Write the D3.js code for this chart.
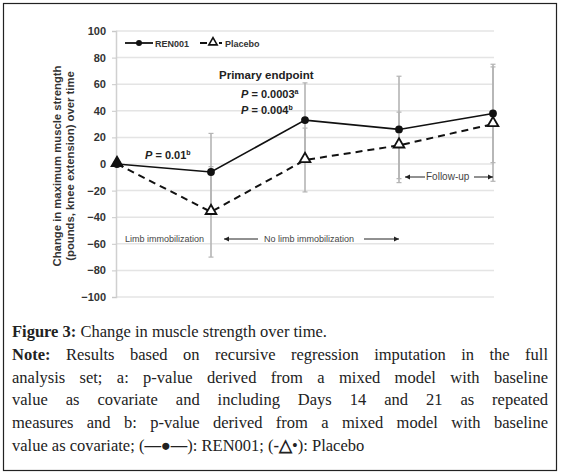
<!DOCTYPE html>
<html><head><meta charset="utf-8">
<script src="https://cdn.jsdelivr.net/npm/d3@7"></script>
<style>
body{margin:0;background:#fff;}
#wrap{position:relative;width:561px;height:475px;}
svg{position:absolute;left:0;top:0;}
#cap{position:absolute;left:12px;top:321px;width:536px;font-family:"Liberation Serif","Times New Roman",serif;font-size:16.5px;line-height:22.8px;color:#222;}
#cap div{white-space:nowrap;}
#cap .j{text-align:justify;text-align-last:justify;white-space:normal;}
#cap b{font-weight:bold;}
</style></head>
<body><div id="wrap"><svg id="chart" width="561" height="475"></svg><div id="cap"></div></div>
<script>
const categories = ["Baseline","Day 7","Day 14","Day 21","Day 28"];
const ren001 = [0, -6, 33, 26, 38];
const placebo = [0, -36, 3, 14, 30];
const renLow  = [0, -35, 5, -14, 1];
const renHigh = [0, 23, 61, 66, 75];
const plcLow  = [0, -70, -21, -11, -13];
const plcHigh = [0, -2, 27, 39, 73];
const yTicks = [100, 80, 60, 40, 20, 0, -20, -40, -60, -80, -100];
const captionLines = [
  {t:"<b>Figure 3:</b> Change in muscle strength over time.", j:false},
  {t:"<b>Note:</b> Results based on recursive regression imputation in the full", j:true},
  {t:"analysis set; a: p-value derived from a mixed model with baseline", j:true},
  {t:"value as covariate and including Days 14 and 21 as repeated", j:true},
  {t:"measures and b: p-value derived from a mixed model with baseline", j:true},
  {t:"value as covariate; (<b>\u2014\u25CF\u2014</b>): REN001; (<b>-\u25B3</b>\u2022): Placebo", j:false}
];

const svg = d3.select("#chart");
svg.append("rect").attr("x",3.5).attr("y",3.5).attr("width",553).attr("height",467)
  .attr("fill","none").attr("stroke","#222").attr("stroke-width",1.2);

const x = d3.scalePoint().domain(categories).range([117, 493]);
const y = d3.scaleLinear().domain([-100, 100]).range([297, 31]);
const axisX = 116, gridRight = 494;
const sans = "Liberation Sans, Arial, sans-serif";

// gridlines
svg.append("g").selectAll("line").data(yTicks).join("line")
  .attr("x1", axisX).attr("x2", gridRight)
  .attr("y1", d => y(d)).attr("y2", d => y(d))
  .attr("stroke", "#e4e4e4").attr("stroke-width", 1.5);

// y axis
const yAxis = d3.axisLeft(y).tickValues(yTicks).tickSize(4).tickPadding(6);
const ga = svg.append("g").attr("transform", `translate(${axisX},0)`).call(yAxis);
ga.select(".domain").attr("stroke", "#d0d0d0").attr("stroke-width", 1.5);
ga.selectAll(".tick line").attr("stroke", "#c8c8c8");
ga.selectAll(".tick text").attr("font-family", sans)
  .attr("font-size", "11px").attr("font-weight", "bold").attr("fill", "#333");

// y title
[["Change in maximum muscle strength", 61], ["(pounds, knee extension) over time", 74]].forEach(([t, xx]) => {
  svg.append("text").attr("transform", `translate(${xx},166) rotate(-90)`)
    .attr("font-family", sans).attr("font-size", "11.3px")
    .attr("font-weight", "bold").attr("fill", "#333").attr("text-anchor", "middle").text(t);
});

// error bars
function errBars(lo, hi) {
  const g = svg.append("g").attr("stroke", "#b4b4b4").attr("stroke-width", 1.6);
  categories.forEach((c, i) => {
    if (lo[i] === hi[i]) return;
    const cx = x(c);
    g.append("line").attr("x1", cx).attr("x2", cx).attr("y1", y(lo[i])).attr("y2", y(hi[i]));
    g.append("line").attr("x1", cx-2.5).attr("x2", cx+2.5).attr("y1", y(lo[i])).attr("y2", y(lo[i])).attr("stroke-width",1.2);
    g.append("line").attr("x1", cx-2.5).attr("x2", cx+2.5).attr("y1", y(hi[i])).attr("y2", y(hi[i])).attr("stroke-width",1.2);
  });
}
errBars(plcLow, plcHigh);
errBars(renLow, renHigh);

const line = d3.line().x((d, i) => x(categories[i])).y(d => y(d));
svg.append("path").datum(placebo).attr("d", line).attr("fill", "none")
  .attr("stroke", "#111").attr("stroke-width", 2).attr("stroke-dasharray", "7,5");
svg.append("path").datum(ren001).attr("d", line).attr("fill", "none")
  .attr("stroke", "#111").attr("stroke-width", 1.6);

const tri = d3.symbol().type(d3.symbolTriangle).size(50);
svg.append("g").selectAll("circle").data(ren001).join("circle")
  .attr("cx", (d, i) => x(categories[i])).attr("cy", d => y(d)).attr("r", 3.9).attr("fill", "#111");
svg.append("g").selectAll("path").data(placebo).join("path")
  .attr("d", tri).attr("transform", (d, i) => `translate(${x(categories[i])},${y(d)-1})`)
  .attr("fill", (d, i) => ren001[i] === d ? "#111" : "#fff").attr("stroke", "#111").attr("stroke-width", 1.8);

// legend
const lg = svg.append("g").attr("font-family", sans)
  .attr("font-size", "9px").attr("font-weight", "bold").attr("fill", "#333");
lg.append("line").attr("x1", 125).attr("x2", 153).attr("y1", 43).attr("y2", 43).attr("stroke", "#111").attr("stroke-width", 1.8);
lg.append("circle").attr("cx", 139).attr("cy", 43).attr("r", 3).attr("fill", "#111");
lg.append("text").attr("x", 155).attr("y", 46.5).text("REN001");
lg.append("line").attr("x1", 200).attr("x2", 207).attr("y1", 43).attr("y2", 43).attr("stroke", "#111").attr("stroke-width", 2);
lg.append("path").attr("d", d3.symbol().type(d3.symbolTriangle).size(30)).attr("transform", "translate(213,42.5)")
  .attr("fill", "#fff").attr("stroke", "#111").attr("stroke-width", 1.6);
lg.append("line").attr("x1", 219).attr("x2", 222).attr("y1", 43).attr("y2", 43).attr("stroke", "#111").attr("stroke-width", 2);
lg.append("text").attr("x", 225).attr("y", 46.5).text("Placebo");

// annotations
const ann = svg.append("g").attr("font-family", sans).attr("font-weight", "bold").attr("fill", "#222");
ann.append("text").attr("x", 219).attr("y", 79).attr("font-size", "11.5px").text("Primary endpoint");
function pText(xp, yp, val, sup) {
  const t = ann.append("text").attr("x", xp).attr("y", yp).attr("font-size", "11px");
  t.append("tspan").attr("font-style", "italic").text("P");
  t.append("tspan").text(" = " + val);
  t.append("tspan").attr("font-size", "7px").attr("dy", -4).text(sup);
}
pText(241, 98, "0.0003", "a");
pText(241, 114, "0.004", "b");
pText(145, 159, "0.01", "b");

const note = svg.append("g").attr("font-family", sans).attr("font-size", "9px").attr("fill", "#444");
note.append("text").attr("x", 125).attr("y", 242).text("Limb immobilization");
note.append("text").attr("x", 264).attr("y", 242).text("No limb immobilization");
note.append("text").attr("x", 426).attr("y", 180).attr("font-size", "10px").text("Follow-up");
function arrow(x1, x2, yy, head) {
  note.append("line").attr("x1", x1).attr("x2", x2).attr("y1", yy).attr("y2", yy).attr("stroke", "#222").attr("stroke-width", 1);
  const hx = head === "left" ? x1 : x2, s = head === "left" ? 1 : -1;
  note.append("path").attr("d", `M${hx},${yy} L${hx + s*5},${yy-2.5} L${hx + s*5},${yy+2.5} Z`).attr("fill", "#222");
}
arrow(224, 258, 239, "left");
arrow(364, 399, 239, "right");
arrow(405, 425, 177, "left");
arrow(474, 493, 177, "right");

// caption
d3.select("#cap").selectAll("div").data(captionLines).join("div")
  .attr("class", d => d.j ? "j" : null).html(d => d.t);
</script></body></html>
